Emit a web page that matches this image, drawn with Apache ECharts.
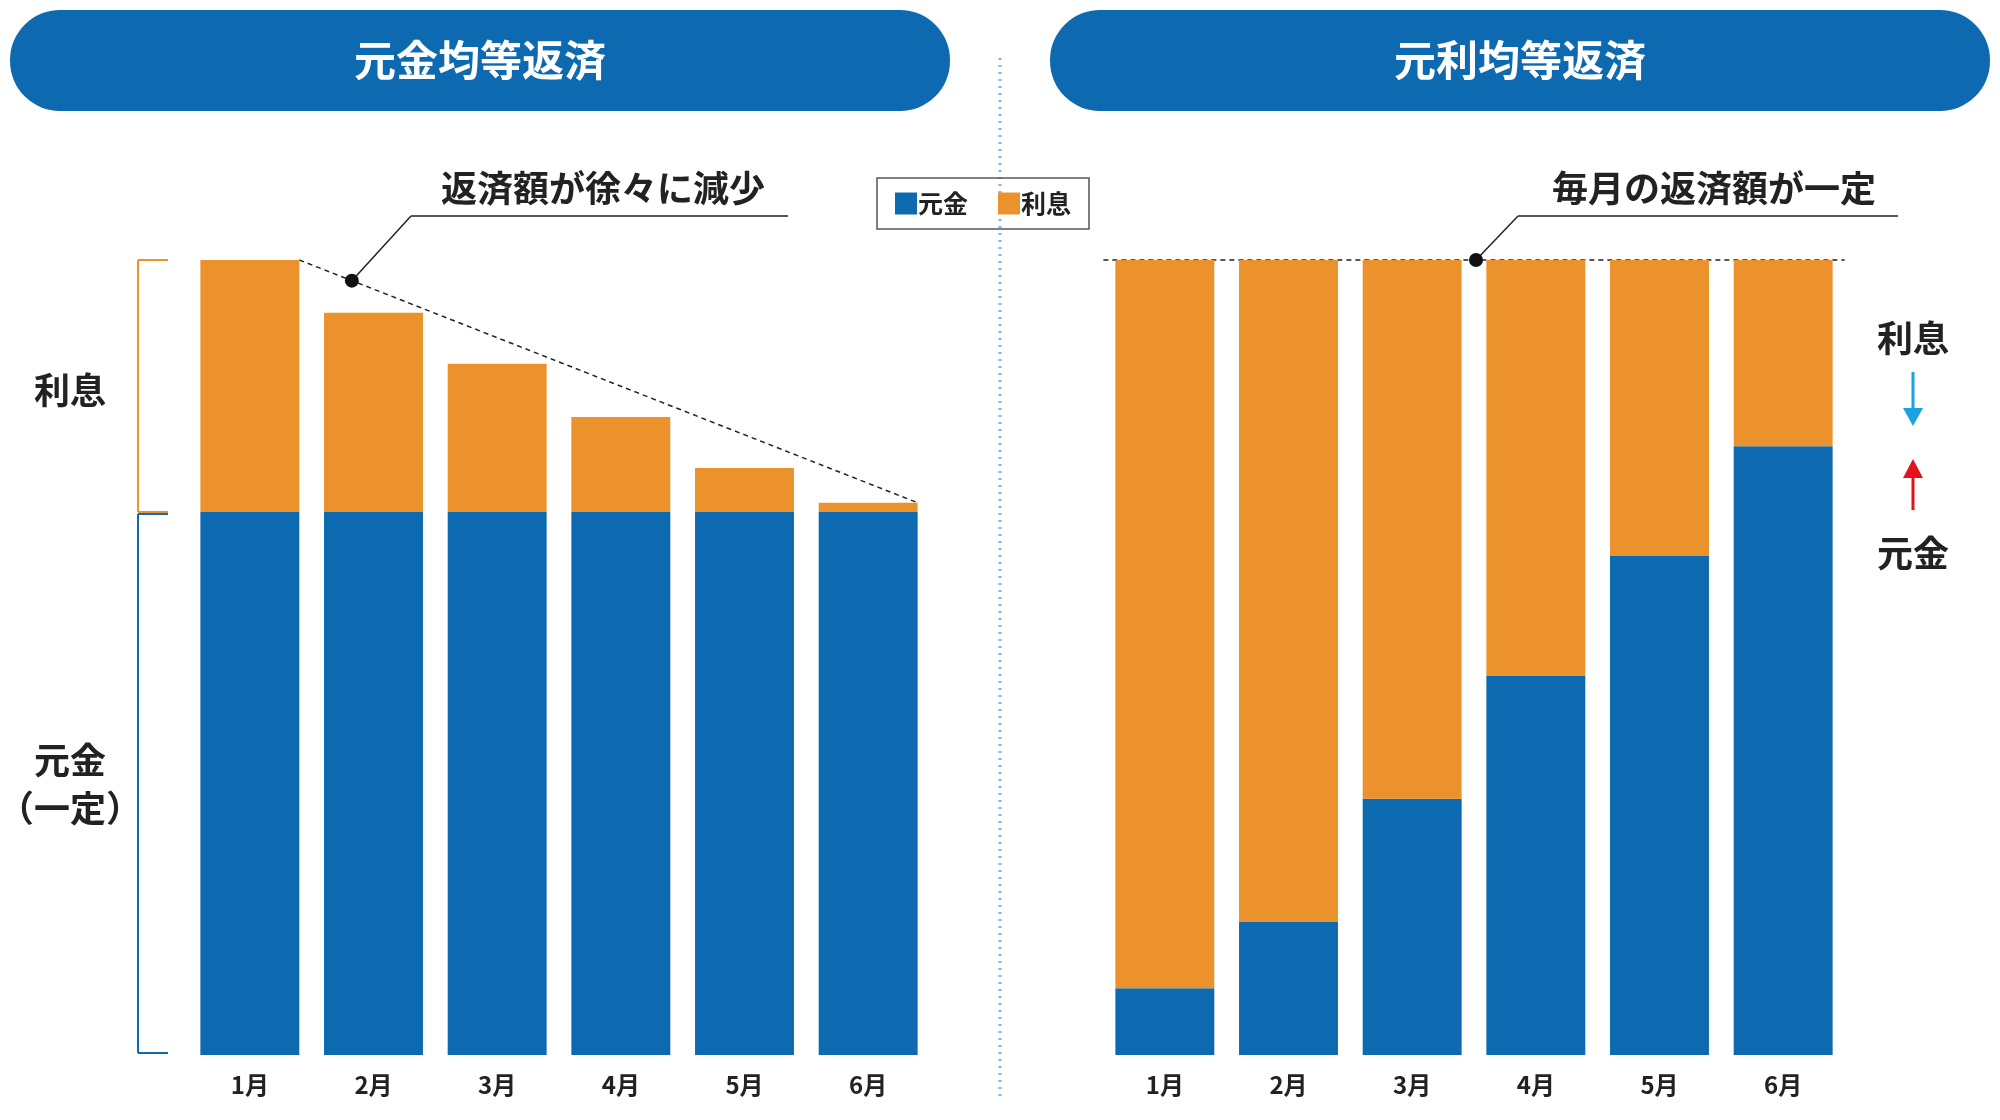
<!DOCTYPE html>
<html><head><meta charset="utf-8">
<script src="https://cdn.jsdelivr.net/npm/echarts@6/dist/echarts.min.js"></script>
<style>html,body{margin:0;background:#fff}#c{width:2000px;height:1120px}</style>
</head><body><div id="c"></div>
<script>
const months = ['1月', '2月', '3月', '4月', '5月', '6月'];
// 元金均等返済
const leftPrincipal = [100, 100, 100, 100, 100, 100];
const leftInterest = [46.4, 36.7, 27.3, 17.5, 8.1, 1.7];
// 元利均等返済 (total constant)
const rightPrincipal = [12.3, 24.6, 47.2, 69.9, 91.9, 112.1];
const rightInterest = [134.1, 121.8, 99.2, 76.5, 54.5, 34.3];
const yMax = 146.4;

const BLUE = '#0d6ab1', ORANGE = '#ec922c';
const FONT = '"Noto Sans CJK JP", "Noto Sans", sans-serif';
const chart = echarts.init(document.getElementById('c'));

function xAxis(i) {
  return { type: 'category', gridIndex: i, data: months, axisLine: { show: false }, axisTick: { show: false },
    axisLabel: { fontSize: 24, color: '#222', margin: 18, fontFamily: FONT, fontWeight: 'bold' } };
}
function yAxis(i) {
  return { type: 'value', gridIndex: i, min: 0, max: yMax, show: false, splitLine: { show: false } };
}
function bars(name, data, color, i) {
  return { name, type: 'bar', stack: 's' + i, xAxisIndex: i, yAxisIndex: i, data, barCategoryGap: '20%',
    itemStyle: { color }, emphasis: { disabled: true } };
}

chart.setOption({
  animation: false,
  textStyle: { fontFamily: FONT },
  grid: [
    { left: 188, width: 742, top: 260, height: 795 },
    { left: 1103, width: 742, top: 260, height: 795 }
  ],
  xAxis: [xAxis(0), xAxis(1)],
  yAxis: [yAxis(0), yAxis(1)],
  legend: { data: ['元金', '利息'], left: 877, top: 178, width: 244, height: 50, itemWidth: 22, itemHeight: 22,
    itemGap: 30, padding: [13, 18], borderColor: '#555', borderWidth: 1.5, icon: 'rect',
    textStyle: { fontSize: 25, fontWeight: 'bold', color: '#222', fontFamily: FONT, padding: [0, 0, 0, -4] } },
  series: [
    bars('元金', leftPrincipal, BLUE, 0), bars('利息', leftInterest, ORANGE, 0),
    bars('元金', rightPrincipal, BLUE, 1), bars('利息', rightInterest, ORANGE, 1)
  ]
});

const halfBar = 0.4 * 742 / 6;
const p0 = chart.convertToPixel({ gridIndex: 0 }, [0, leftPrincipal[0] + leftInterest[0]]);
const p5 = chart.convertToPixel({ gridIndex: 0 }, [5, leftPrincipal[5] + leftInterest[5]]);
const pBase = chart.convertToPixel({ gridIndex: 0 }, [0, 0]);
const pMid = chart.convertToPixel({ gridIndex: 0 }, [0, leftPrincipal[0]]);
const r0 = chart.convertToPixel({ gridIndex: 1 }, [0, rightPrincipal[0] + rightInterest[0]]);
const r5 = chart.convertToPixel({ gridIndex: 1 }, [5, rightPrincipal[5] + rightInterest[5]]);

const x1 = p0[0] + halfBar, y1 = p0[1], x2 = p5[0] + halfBar, y2 = p5[1];
const t = 0.085, dx = x1 + (x2 - x1) * t, dy = y1 + (y2 - y1) * t;
const txt = (x, y, s, size, color, extra) => Object.assign({ type: 'text', x, y,
  style: { text: s, font: 'bold ' + size + 'px ' + FONT, fill: color, align: 'center', verticalAlign: 'middle' } }, extra || {});
const line = (a, b, c, d, color, w, dash) => ({ type: 'line', shape: { x1: a, y1: b, x2: c, y2: d },
  style: { stroke: color, lineWidth: w, lineDash: dash || null } });

chart.setOption({ graphic: [
  { type: 'rect', shape: { x: 10, y: 10, width: 940, height: 101, r: 50 }, style: { fill: BLUE } },
  { type: 'rect', shape: { x: 1050, y: 10, width: 940, height: 101, r: 50 }, style: { fill: BLUE } },
  txt(480, 60, '元金均等返済', 42, '#fff'),
  txt(1520, 60, '元利均等返済', 42, '#fff'),
  line(1000, 58, 1000, 1100, '#7fb3dd', 3, [2, 5]),
  // left annotation
  line(x1, y1, x2, y2, '#222', 1.5, [5, 4]),
  line(dx, dy, 411, 216, '#222', 1.5), line(411, 216, 788, 216, '#222', 1.5),
  { type: 'circle', shape: { cx: dx, cy: dy, r: 7 }, style: { fill: '#111' } },
  txt(603, 188, '返済額が徐々に減少', 36, '#222'),
  // right annotation
  line(r0[0] - halfBar - 12, r0[1], r5[0] + halfBar + 12, r5[1], '#222', 1.5, [5, 4]),
  line(1476, r0[1], 1518, 216, '#222', 1.5), line(1518, 216, 1898, 216, '#222', 1.5),
  { type: 'circle', shape: { cx: 1476, cy: r0[1], r: 7 }, style: { fill: '#111' } },
  txt(1714, 188, '毎月の返済額が一定', 36, '#222'),
  // left brackets
  line(138, p0[1], 138, pMid[1], ORANGE, 2), line(138, p0[1], 168, p0[1], ORANGE, 2),
  line(138, pMid[1], 168, pMid[1], ORANGE, 2),
  line(138, pMid[1] + 2, 138, pBase[1] - 2, BLUE, 2), line(138, pMid[1] + 2, 168, pMid[1] + 2, BLUE, 2),
  line(138, pBase[1] - 2, 168, pBase[1] - 2, BLUE, 2),
  txt(70, 390, '利息', 36, '#222'),
  txt(70, 760, '元金', 36, '#222'),
  txt(70, 808, '（一定）', 36, '#222'),
  // right side arrows
  txt(1913, 338, '利息', 36, '#222'),
  line(1913, 372, 1913, 412, '#1aa3e0', 3),
  { type: 'polygon', shape: { points: [[1903, 408], [1923, 408], [1913, 426]] }, style: { fill: '#1aa3e0' } },
  line(1913, 474, 1913, 510, '#e3131b', 3),
  { type: 'polygon', shape: { points: [[1903, 478], [1923, 478], [1913, 459]] }, style: { fill: '#e3131b' } },
  txt(1913, 553, '元金', 36, '#222')
] });
</script></body></html>
